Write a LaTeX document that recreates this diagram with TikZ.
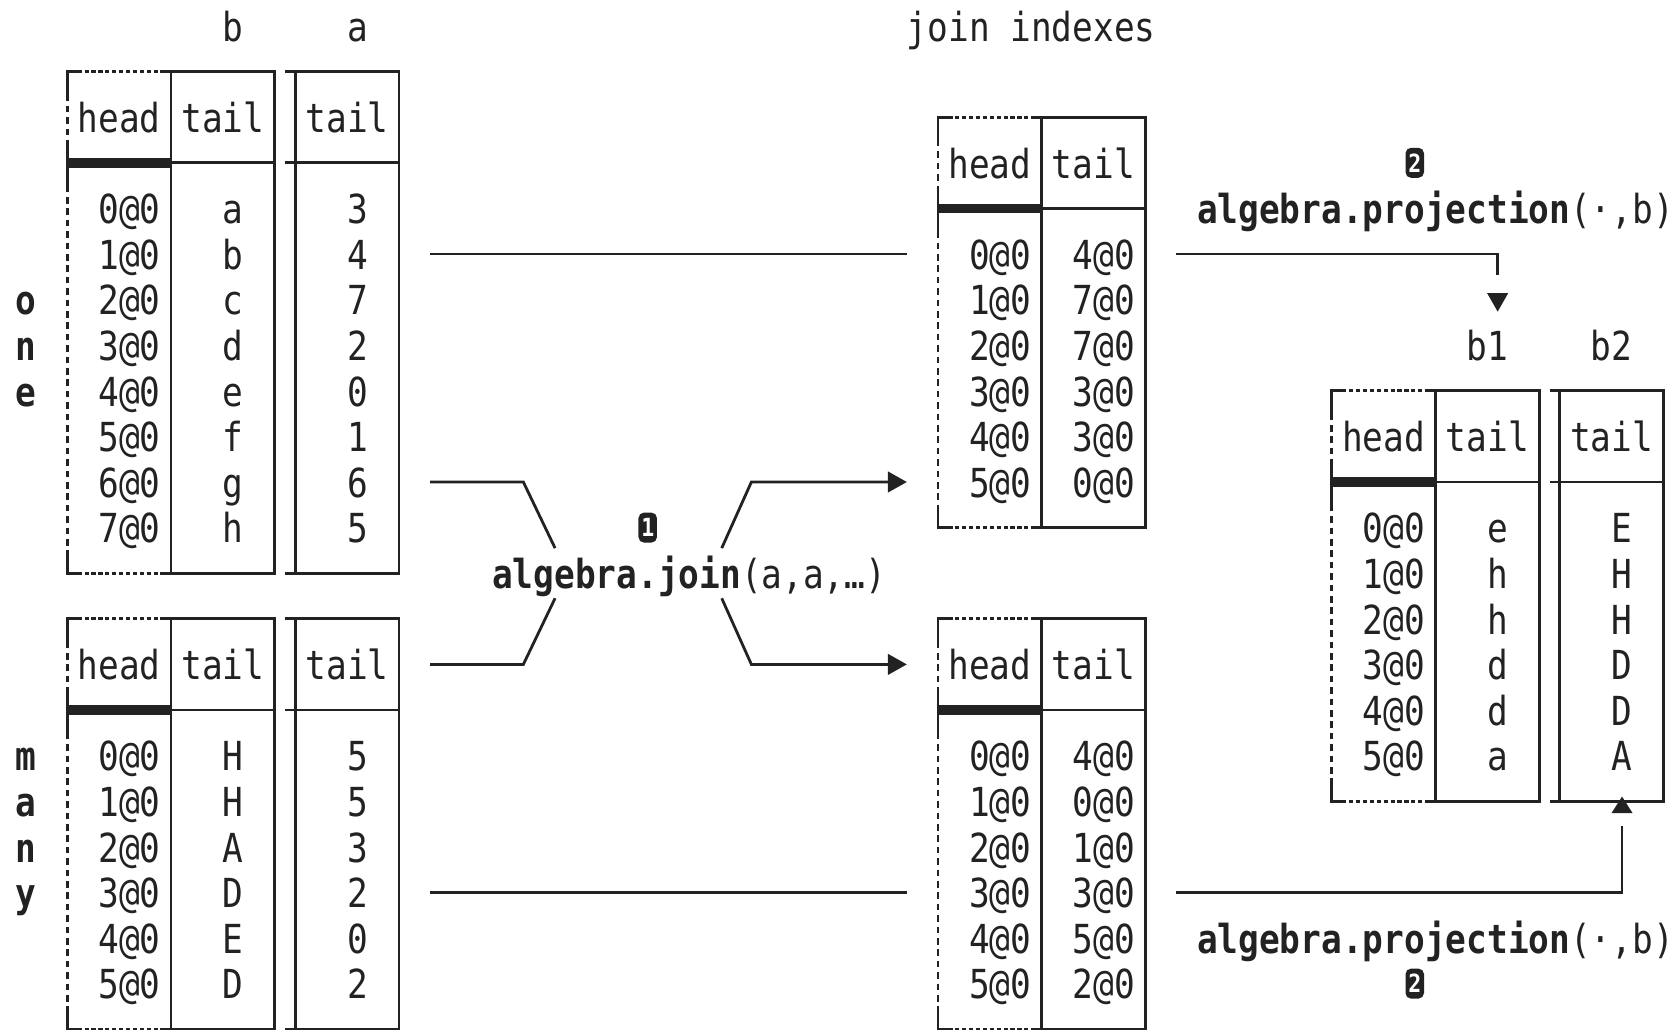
\documentclass[tikz,border=0pt]{standalone}
\usepackage{fontspec}
\newfontfamily\monofam{DejaVu Sans Mono}[FakeStretch=0.861]
\usetikzlibrary{arrows.meta}
\definecolor{ink}{RGB}{34,34,34}

\tikzset{
  rule/.style={draw=ink, line width=2.8pt},
  hdash/.style={draw=ink, line width=2.8pt, dash pattern=on 4.2pt off 2.7pt},
  vdash/.style={draw=ink, line width=2.8pt, dash pattern=on 6.5pt off 4.9pt},
  heavy/.style={draw=ink, line width=9.5pt},
  txt/.style={anchor=base, inner sep=0pt, text=ink, yshift=-15.3pt,
    font=\monofam\fontsize{40}{46}\selectfont},
  btxt/.style={txt, font=\monofam\bfseries\fontsize{40}{46}\selectfont},
  badge/.style={fill=ink, rounded corners=5.5pt, minimum width=18.5pt,
    minimum height=30pt, inner sep=0pt, text=white,
    font=\monofam\bfseries\fontsize{25}{25}\selectfont},
  tip/.style={-{Triangle[length=19pt,width=20.5pt]}},
}

% frame of a head/tail table: #1 left column, #2 top row, #3 bottom row
\newcommand\mainbox[3]{%
  \draw[rule] ({#1+0.5},#2) -- (#1,#2) -- (#1,{#2+0.5});
  \draw[rule] ({#1+4.5},#2) -- ({#1+10},#2) -- ({#1+10},#3) -- ({#1+4.5},#3);
  \draw[rule] ({#1+0.5},#3) -- (#1,#3) -- (#1,{#3-0.5});
  \draw[rule] (#1,{#2+1.5}) -- (#1,{#2+2.5});
  \draw[hdash] ({#1+0.5},#2) -- ({#1+4.5},#2);
  \draw[hdash] ({#1+0.5},#3) -- ({#1+4.5},#3);
  \draw[vdash] (#1,{#2+0.5}) -- (#1,{#2+1.5});
  \draw[vdash] (#1,{#2+2.5}) -- (#1,{#3-0.5});
  \draw[rule] ({#1+5},#2) -- ({#1+5},#3);
  \draw[heavy] ({#1-0.065},{#2+2}) -- ({#1+5},{#2+2});
  \draw[rule] ({#1+5},{#2+2}) -- ({#1+10},{#2+2});
}
% detached tail column to the right of a table
\newcommand\sidecol[3]{%
  \draw[rule] ({#1+10.5},#2) -- ({#1+16},#2) -- ({#1+16},#3) -- ({#1+10.5},#3);
  \draw[rule] ({#1+11},#2) -- ({#1+11},#3);
  \draw[rule] ({#1+10.5},{#2+2}) -- ({#1+16},{#2+2});
}

\begin{document}
\begin{tikzpicture}[x=20.73pt, y=-45.6pt]
\fill[white] (0pt,0pt) rectangle (1679pt,-1030pt);
\useasboundingbox (0pt,0pt) rectangle (1679pt,-1030pt);
\begin{scope}[shift={(5.1pt,-26pt)}]

% ---- column labels
\node[txt] (lblB) at (11,0) {b};
\node[txt] (lblA) at (17,0) {a};
\node[txt] (lblJoin) at (49.5,0) {join indexes};
\node[txt] (lblB1) at (71.5,7) {b1};
\node[txt] (lblB2) at (77.5,7) {b2};

% ---- side captions
\foreach \c [count=\r from 0] in {o,n,e}
  \node[btxt] (one\r) at (1,{6+\r}) {\c};
\foreach \c [count=\r from 0] in {m,a,n,y}
  \node[btxt] (many\r) at (1,{16+\r}) {\c};

% ---- table "one" with columns b and a
\mainbox{3}{1}{12}
\sidecol{3}{1}{12}
\node[txt] (oneHd) at (5.5,2) {head};
\node[txt] (oneTl) at (10.5,2) {tail};
\node[txt] (oneTa) at (16.5,2) {tail};
\foreach \t [count=\r from 0] in {a,b,c,d,e,f,g,h} {
  \node[txt] (oneH\r) at (6,{4+\r}) {\r@0};
  \node[txt] (oneB\r) at (11,{4+\r}) {\t};
}
\foreach \t [count=\r from 0] in {3,4,7,2,0,1,6,5}
  \node[txt] (oneA\r) at (17,{4+\r}) {\t};

% ---- table "many" with columns b and a
\mainbox{3}{13}{22}
\sidecol{3}{13}{22}
\node[txt] (manyHd) at (5.5,14) {head};
\node[txt] (manyTl) at (10.5,14) {tail};
\node[txt] (manyTa) at (16.5,14) {tail};
\foreach \t [count=\r from 0] in {H,H,A,D,E,D} {
  \node[txt] (manyH\r) at (6,{16+\r}) {\r@0};
  \node[txt] (manyB\r) at (11,{16+\r}) {\t};
}
\foreach \t [count=\r from 0] in {5,5,3,2,0,2}
  \node[txt] (manyA\r) at (17,{16+\r}) {\t};

% ---- join index tables
\mainbox{45}{2}{11}
\node[txt] (jaHd) at (47.5,3) {head};
\node[txt] (jaTl) at (52.5,3) {tail};
\foreach \t [count=\r from 0] in {4,7,7,3,3,0} {
  \node[txt] (jaH\r) at (48,{5+\r}) {\r@0};
  \node[txt] (jaT\r) at (53,{5+\r}) {\t@0};
}
\mainbox{45}{13}{22}
\node[txt] (jbHd) at (47.5,14) {head};
\node[txt] (jbTl) at (52.5,14) {tail};
\foreach \t [count=\r from 0] in {4,0,1,3,5,2} {
  \node[txt] (jbH\r) at (48,{16+\r}) {\r@0};
  \node[txt] (jbT\r) at (53,{16+\r}) {\t@0};
}

% ---- projected table with columns b1 and b2
\mainbox{64}{8}{17}
\sidecol{64}{8}{17}
\node[txt] (pHd) at (66.5,9) {head};
\node[txt] (pTl) at (71.5,9) {tail};
\node[txt] (pTb) at (77.5,9) {tail};
\foreach \t/\u [count=\r from 0] in {e/E,h/H,h/H,d/D,d/D,a/A} {
  \node[txt] (pH\r) at (67,{11+\r}) {\r@0};
  \node[txt] (pB\r) at (72,{11+\r}) {\t};
  \node[txt] (pC\r) at (78,{11+\r}) {\u};
}

% ---- operations
\node[badge] (step1) at (31,11) {1};
\node[txt] (joinOp) at (33,12) {\textbf{algebra.join}(a,a,…)};
\node[badge] (step2a) at (68,3) {2};
\node[txt] (projA) at (69,4) {\textbf{algebra.projection}(·,b)};
\node[txt] (projB) at (69,20) {\textbf{algebra.projection}(·,b)};
\node[badge] (step2b) at (68,21) {2};

% ---- connector end points
\coordinate (oneOut) at (20.5,5);
\coordinate (manyOut) at (20.5,19);
\coordinate (jaIn) at (43.5,5);
\coordinate (jbIn) at (43.5,19);
\coordinate (oneJ) at (20.5,10);
\coordinate (manyJ) at (20.5,14);
\coordinate (opNW) at (26.53,11.45);
\coordinate (opSW) at (26.53,12.55);
\coordinate (opNE) at (34.57,11.45);
\coordinate (opSE) at (34.57,12.55);
\coordinate (jaArr) at (43.5,10);
\coordinate (jbArr) at (43.5,14);
\coordinate (jaOut) at (56.5,5);
\coordinate (jbOut) at (56.5,19);
\coordinate (triDown) at (72,5.86);
\coordinate (triUp) at (78,17.26);

% ---- connectors
\draw[rule] (oneOut) -- (jaIn);
\draw[rule] (manyOut) -- (jbIn);
\draw[rule] (oneJ) -- (25,10) -- (opNW);
\draw[rule] (manyJ) -- (25,14) -- (opSW);
\draw[rule, tip] (opNE) -- (36,10) -- (jaArr);
\draw[rule, tip] (opSE) -- (36,14) -- (jbArr);
\draw[rule] (jaOut) -| ([yshift=18.3pt]triDown);
\draw[rule] (jbOut) -| ([yshift=-13pt]triUp);
\fill[ink] ([xshift=-10.5pt]triDown) -- ([xshift=10.5pt]triDown)
  -- ([yshift=-18.4pt]triDown) -- cycle;
\fill[ink] ([xshift=-10.5pt]triUp) -- ([xshift=10.5pt]triUp)
  -- ([yshift=16.5pt]triUp) -- cycle;

\end{scope}
\end{tikzpicture}
\end{document}
